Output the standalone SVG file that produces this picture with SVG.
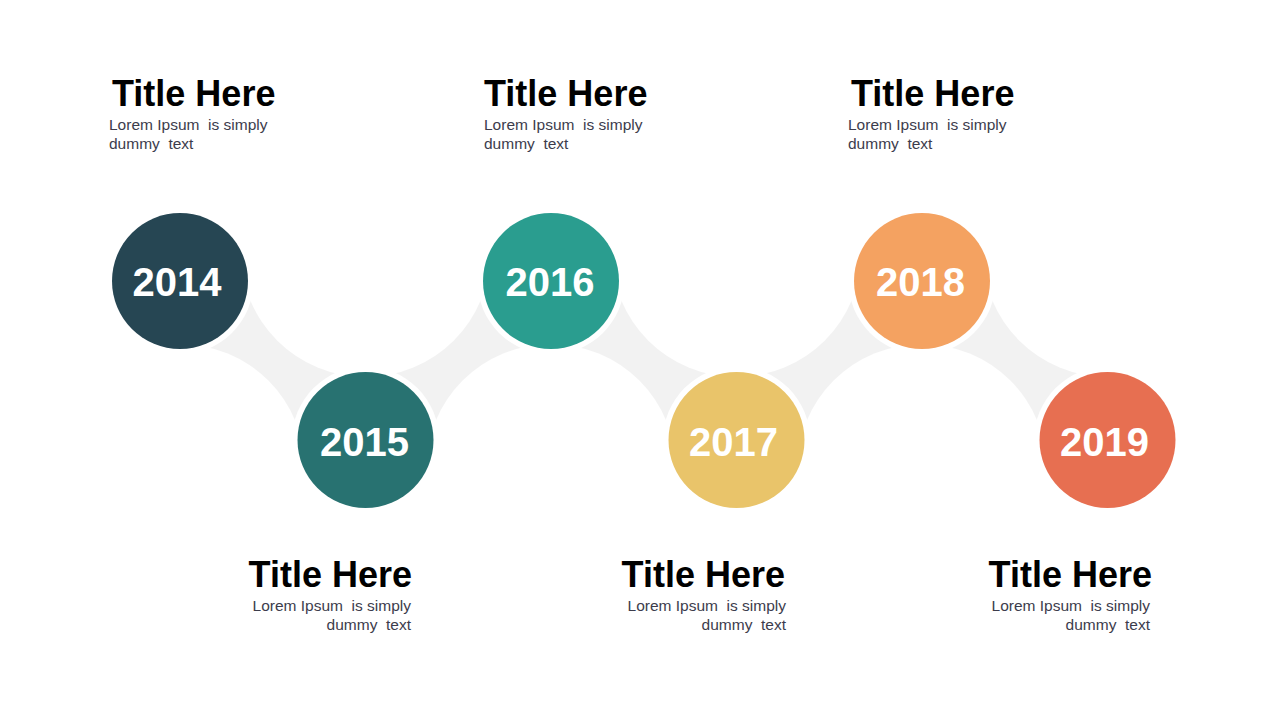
<svg xmlns="http://www.w3.org/2000/svg" width="1280" height="720" viewBox="0 0 1280 720">
  <style>
    .ring { fill: #ffffff; }
    .year { font-family: "Liberation Sans", Arial, sans-serif; font-weight: bold; font-size: 40px; fill: #ffffff; text-anchor: middle; }
    .title { font-family: "Liberation Sans", Arial, sans-serif; font-weight: bold; font-size: 36px; fill: #000000; }
    .body { font-family: "Liberation Sans", Arial, sans-serif; font-size: 15.5px; fill: #3c3c4c; }
    .end { text-anchor: end; }
  </style>
  <defs>
    <mask id="holes" maskUnits="userSpaceOnUse" x="0" y="0" width="1280" height="720">
      <rect x="0" y="0" width="1280" height="720" fill="#ffffff"/>
      <circle cx="365.5" cy="252" r="125" fill="#000000"/>
      <circle cx="736.5" cy="252" r="125" fill="#000000"/>
      <circle cx="1107.5" cy="252" r="125" fill="#000000"/>
      <circle cx="180" cy="469" r="125" fill="#000000"/>
      <circle cx="551" cy="469" r="125" fill="#000000"/>
      <circle cx="922" cy="469" r="125" fill="#000000"/>
    </mask>
  </defs>
  <rect width="1280" height="720" fill="#ffffff"/>

  <g id="connectors">
    <rect x="180" y="281" width="927.5" height="159" fill="#f2f2f2" mask="url(#holes)"/>
  </g>

  <g id="node-2014">
    <circle class="ring" cx="180" cy="281" r="73.5"/>
    <circle cx="180" cy="281" r="68" fill="#264653"/>
    <text class="year" x="177" y="296">2014</text>
    <text class="title" x="112" y="105.5">Title Here</text>
    <text class="body" x="109" y="129.5" xml:space="preserve">Lorem Ipsum  is simply</text>
    <text class="body" x="109" y="148.5" xml:space="preserve">dummy  text</text>
  </g>

  <g id="node-2015">
    <circle class="ring" cx="365.5" cy="440" r="73.5"/>
    <circle cx="365.5" cy="440" r="68" fill="#287271"/>
    <text class="year" x="364.5" y="456">2015</text>
    <text class="title end" x="412" y="587">Title Here</text>
    <text class="body end" x="411" y="610.5" xml:space="preserve">Lorem Ipsum  is simply</text>
    <text class="body end" x="411" y="629.5" xml:space="preserve">dummy  text</text>
  </g>

  <g id="node-2016">
    <circle class="ring" cx="551" cy="281" r="73.5"/>
    <circle cx="551" cy="281" r="68" fill="#2a9d8f"/>
    <text class="year" x="550" y="296">2016</text>
    <text class="title" x="484" y="105.5">Title Here</text>
    <text class="body" x="484" y="129.5" xml:space="preserve">Lorem Ipsum  is simply</text>
    <text class="body" x="484" y="148.5" xml:space="preserve">dummy  text</text>
  </g>

  <g id="node-2017">
    <circle class="ring" cx="736.5" cy="440" r="73.5"/>
    <circle cx="736.5" cy="440" r="68" fill="#e9c46a"/>
    <text class="year" x="733.5" y="456">2017</text>
    <text class="title end" x="785" y="587">Title Here</text>
    <text class="body end" x="786" y="610.5" xml:space="preserve">Lorem Ipsum  is simply</text>
    <text class="body end" x="786" y="629.5" xml:space="preserve">dummy  text</text>
  </g>

  <g id="node-2018">
    <circle class="ring" cx="922" cy="281" r="73.5"/>
    <circle cx="922" cy="281" r="68" fill="#f4a261"/>
    <text class="year" x="920.5" y="296">2018</text>
    <text class="title" x="851" y="105.5">Title Here</text>
    <text class="body" x="848" y="129.5" xml:space="preserve">Lorem Ipsum  is simply</text>
    <text class="body" x="848" y="148.5" xml:space="preserve">dummy  text</text>
  </g>

  <g id="node-2019">
    <circle class="ring" cx="1107.5" cy="440" r="73.5"/>
    <circle cx="1107.5" cy="440" r="68" fill="#e76f51"/>
    <text class="year" x="1104.5" y="456">2019</text>
    <text class="title end" x="1152" y="587">Title Here</text>
    <text class="body end" x="1150" y="610.5" xml:space="preserve">Lorem Ipsum  is simply</text>
    <text class="body end" x="1150" y="629.5" xml:space="preserve">dummy  text</text>
  </g>
</svg>
